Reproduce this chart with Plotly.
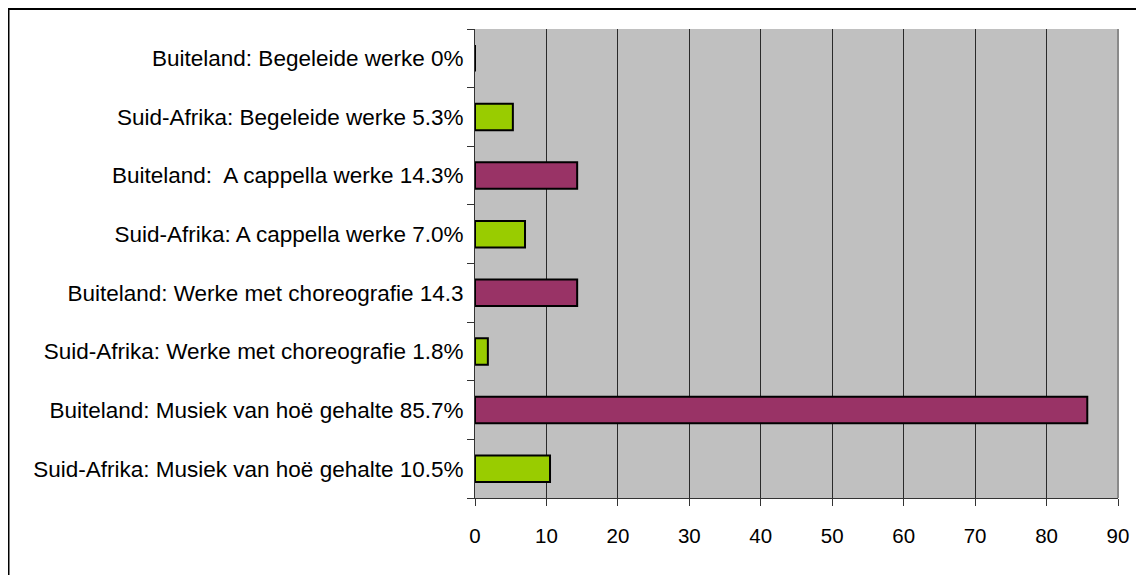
import plotly.graph_objects as go

# categories bottom -> top (plotly puts the first category at the bottom)
categories = [
    "Suid-Afrika: Musiek van hoë gehalte 10.5%",
    "Buiteland: Musiek van hoë gehalte 85.7%",
    "Suid-Afrika: Werke met choreografie 1.8%",
    "Buiteland: Werke met choreografie 14.3",
    "Suid-Afrika: A cappella werke 7.0%",
    "Buiteland:  A cappella werke 14.3%",
    "Suid-Afrika: Begeleide werke 5.3%",
    "Buiteland: Begeleide werke 0%",
]
values = [10.5, 85.7, 1.8, 14.3, 7.0, 14.3, 5.3, 0]
x_ticks = [0, 10, 20, 30, 40, 50, 60, 70, 80, 90]

region_colors = {"Suid-Afrika": "#99CC00", "Buiteland": "#993366"}
bar_colors = [region_colors[c.split(":")[0]] for c in categories]

# page body has an 8px margin, so the figure sits 8px right/down
W, H = 1144, 575
L, R, T, B = 467, 34, 21, 85
pw, ph = W - L - R, H - T - B

fig = go.Figure()
fig.add_trace(go.Bar(
    y=categories, x=values, orientation="h",
    width=0.45,
    marker=dict(color=bar_colors, line=dict(color="#000000", width=2)),
    hoverinfo="x+y"))

yfont = dict(family="Liberation Sans, Arial", size=22.5, color="#000000")
xfont = dict(family="Liberation Sans, Arial", size=20.5, color="#000000")

fig.update_layout(
    width=W, height=H,
    margin=dict(l=L, r=R, t=T, b=B),
    plot_bgcolor="#C0C0C0", paper_bgcolor="white",
    showlegend=False,
    font=yfont,
    xaxis=dict(range=[0, 90], tickvals=x_ticks, showgrid=True,
               gridcolor="#2a2a2a", gridwidth=1, zeroline=False,
               showline=True, linecolor="#333333", linewidth=1,
               ticks="outside", ticklen=7, tickcolor="#333333",
               ticklabelstandoff=12,
               tickfont=xfont, fixedrange=True),
    yaxis=dict(type="category", tickson="boundaries", showgrid=False,
               showline=True, linecolor="#333333", linewidth=1,
               ticks="outside", ticklen=7, tickcolor="#333333",
               ticklabelstandoff=6,
               tickfont=yfont, fixedrange=True),
)

# right edge of the plot area (grey)
fig.add_shape(type="line", xref="paper", yref="paper", x0=1, x1=1, y0=0, y1=1,
              line=dict(color="#8a8a8a", width=2))
# outer chart frame (right/bottom fall outside the picture)
fig.add_shape(type="rect", xref="paper", yref="paper",
              x0=(0.5 - L) / pw, x1=(W + 20 - L) / pw,
              y0=-(H + 20 - T - ph) / ph, y1=(T + ph - 1) / ph,
              line=dict(color="#000000", width=2), fillcolor="rgba(0,0,0,0)",
              layer="above")

fig.write_html("out.html")
